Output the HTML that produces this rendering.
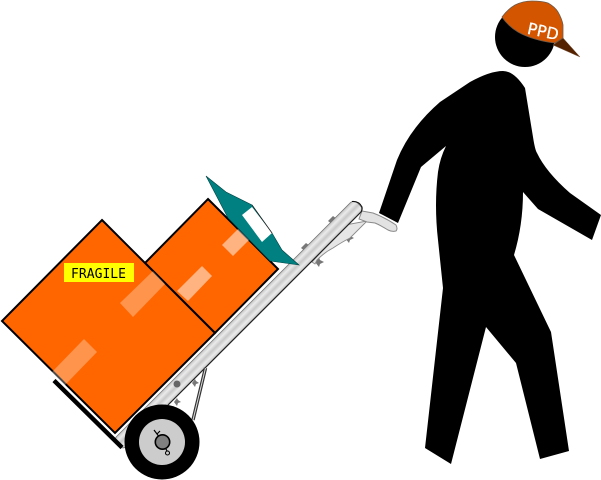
<!DOCTYPE html>
<html><head><meta charset="utf-8"><style>html,body{margin:0;padding:0;background:#fff}svg{display:block}</style></head>
<body>
<svg width="601" height="480" viewBox="0 0 601 480" xmlns="http://www.w3.org/2000/svg">
<defs>
<linearGradient id="bar" x1="0" y1="0" x2="0" y2="1">
<stop offset="0" stop-color="#c4c4c4"/><stop offset=".25" stop-color="#ebebeb"/><stop offset=".5" stop-color="#c8c8c8"/><stop offset=".75" stop-color="#ebebeb"/><stop offset="1" stop-color="#c8c8c8"/>
</linearGradient>
</defs>

<!-- body -->
<path fill="#000" d="M503 71 Q514 71 525 88 L533 137 Q535 150 537 153 Q546 172 570 193 L601 215 L592 240 L538 209 L523 192 Q523 225 514 255 L551 332 L569 451 L540 459 L516 363 L486 327 L451 464 L425 448 L443 288 L438 240 Q434 205 438 172 Q440 158 446 146 L421 167 L398 223 L379 213 L397 160 Q410 128 440 102 Q455 92 470 82 Q490 71 503 71 Z"/>

<!-- head and cap -->
<circle cx="525" cy="37" r="30" fill="#000"/>
<path fill="#552200" stroke="#7a5a40" stroke-width=".5" d="M563 38 L580 57 L553 45 Z"/>
<path fill="#d45500" stroke="#6b5a4a" stroke-width=".8" d="M502 17 Q508 9 515 5 Q523 1 532 1 Q542 1 548 3 Q555 7 558 12 Q562 19 563 25 L563 38 L555 43 Q545 42 535 39 Q525 36 518 32 Q508 26 502 17 Z"/>
<text x="543" y="37" text-anchor="middle" transform="rotate(12 543 32)" font-family="'DejaVu Sans',sans-serif" font-size="16" fill="#fff" stroke="#fff" stroke-width=".25">PPD</text>

<!-- bolts -->
<g fill="#777">
<path d="M328 221 L333 216 L337 219 L332 224 Z"/>
<path d="M301 248 L306 243 L310 246 L305 251 Z"/>
<path d="M345 238 L349 233 L350 236 L354 238 L350 240 L349 243 Z"/>
<path d="M315 262 L319 257 L320 260 L324 262 L320 264 L319 267 Z"/>
<path d="M192 383 L195 379 L196 381 L199 383 L196 384 L195 387 Z"/>
<path d="M174 402 L177 398 L178 400 L181 402 L178 403 L177 406 Z"/>
</g>

<!-- handle / bracket -->
<path fill="#e6e6e6" stroke="#8a8a8a" stroke-width=".9" d="M367 221 L350 238 Q342 242 333 248 Q325 252 317 260 L315 264 L312 262 L345 225 Z"/>
<path fill="#e2e2e2" stroke="#8a8a8a" stroke-width="1" d="M362 211 L373 213 Q386 218 396 225 Q398 229 396 231 Q392 232 388 230 Q380 225 375 223 L367 222 L359 219 Z"/>

<!-- bar -->
<g transform="translate(357 206) rotate(-45)">
<rect x="-338" y="-7" width="340.5" height="14" rx="5" fill="url(#bar)" stroke="#777" stroke-width=".8"/>
</g>
<path d="M168 405 L361 212" stroke="#222" stroke-width="1.2" fill="none"/>
<path d="M352 201.5 Q359 201 362 207 Q362.5 210 361 212" stroke="#111" stroke-width="1.1" fill="none"/>
<circle cx="177" cy="384" r="3.5" fill="#666"/>

<!-- strut -->
<path d="M205.5 368 L193 420" stroke="#333" stroke-width="3.4" fill="none"/>
<path d="M205.5 368 L193 420" stroke="#ddd" stroke-width="1" fill="none"/>

<!-- base plate -->
<path d="M54 380.5 L122 447.5" stroke="#000" stroke-width="4.4" fill="none"/>

<!-- box 2 -->
<path fill="#ff6600" stroke="#000" stroke-width="2" d="M208 199 L278 269 L215 333 L145 263 Z"/>
<path fill="#fff" fill-opacity=".5" d="M177 291 L202 266 L212 276 L188 301 Z"/>
<path fill="#fff" fill-opacity=".5" d="M222 245 L238 229 L249 240 L233 256 Z"/>

<!-- clipboard -->
<path fill="#008080" d="M206 176 L226 192 L252 205 L272 233 L282 250 L299 265 L270 261 L228 218 Z" stroke="#004040" stroke-width=".6"/>
<path fill="#fff" d="M242 215 L252 207 L272 233 L262 242 Z"/>
<path d="M252 205 L272 233" stroke="#222" stroke-width=".8" fill="none"/>

<!-- box 1 -->
<path fill="#ff6600" stroke="#000" stroke-width="2" d="M102 220 L215 333 L115 433 L2 321 Z"/>
<path fill="#fff" fill-opacity=".3" d="M120 303 L153 271 L165 284 L133 317 Z"/>
<path fill="#fff" fill-opacity=".3" d="M52 372 L84 339 L97 352 L65 385 Z"/>
<rect x="64" y="263" width="70" height="19" fill="#ffff00"/>
<text x="71" y="278" font-family="'DejaVu Sans Mono',monospace" font-size="13" fill="#000" textLength="55">FRAGILE</text>

<!-- wheel -->
<circle cx="162" cy="442" r="37.5" fill="#000"/>
<circle cx="162" cy="442" r="23" fill="#ccc"/>
<path d="M154 430 L157 434 L160 431 M157 434 L160 438 M165 447 L167 451" stroke="#000" stroke-width="1.2" fill="none"/>
<circle cx="162.5" cy="442" r="7.2" fill="#808080" stroke="#000" stroke-width="1.6"/>
<circle cx="167.5" cy="453" r="2" fill="#ccc" stroke="#000" stroke-width="1.1"/>
</svg>
</body></html>
